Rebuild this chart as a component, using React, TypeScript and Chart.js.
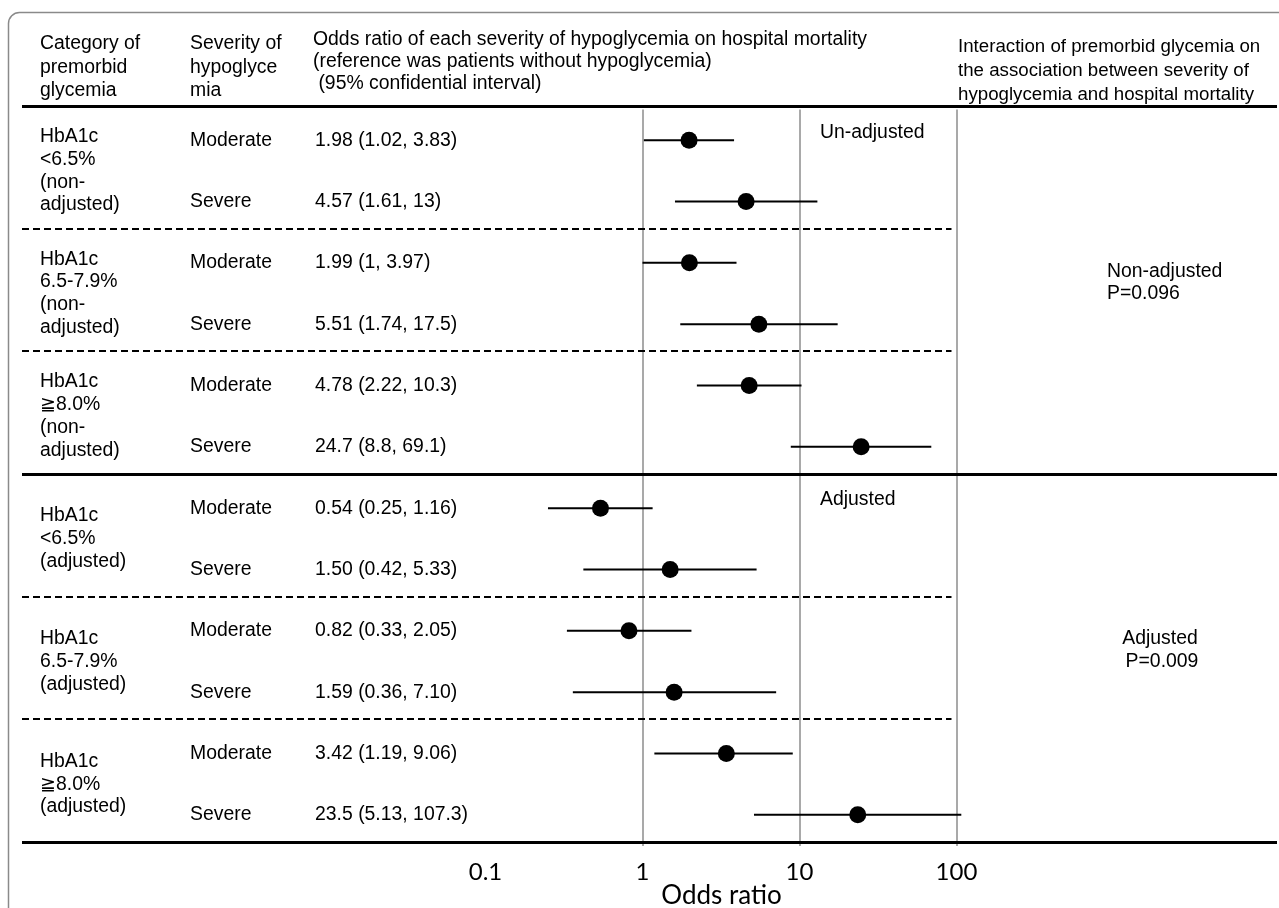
import { useEffect, useRef } from "react";
import { Chart, registerables } from "chart.js";

Chart.register(...registerables);

// ---------- data ----------
const groupLabels: string[][] = [
  ["HbA1c", "<6.5%", "(non-", "adjusted)"],
  ["HbA1c", "6.5-7.9%", "(non-", "adjusted)"],
  ["HbA1c", "≧8.0%", "(non-", "adjusted)"],
  ["HbA1c", "<6.5%", "(adjusted)"],
  ["HbA1c", "6.5-7.9%", "(adjusted)"],
  ["HbA1c", "≧8.0%", "(adjusted)"],
];
const severities = [
  "Moderate", "Severe", "Moderate", "Severe", "Moderate", "Severe",
  "Moderate", "Severe", "Moderate", "Severe", "Moderate", "Severe",
];
const oddsRatios = [1.98, 4.57, 1.99, 5.51, 4.78, 24.7, 0.54, 1.5, 0.82, 1.59, 3.42, 23.5];
const ciLower = [1.02, 1.61, 1, 1.74, 2.22, 8.8, 0.25, 0.42, 0.33, 0.36, 1.19, 5.13];
const ciUpper = [3.83, 13, 3.97, 17.5, 10.3, 69.1, 1.16, 5.33, 2.05, 7.1, 9.06, 107.3];
const ciLabels = [
  "1.98 (1.02, 3.83)", "4.57 (1.61, 13)", "1.99 (1, 3.97)", "5.51 (1.74, 17.5)",
  "4.78 (2.22, 10.3)", "24.7 (8.8, 69.1)", "0.54 (0.25, 1.16)", "1.50 (0.42, 5.33)",
  "0.82 (0.33, 2.05)", "1.59 (0.36, 7.10)", "3.42 (1.19, 9.06)", "23.5 (5.13, 107.3)",
];
const xTicks = [0.1, 1, 10, 100];
const headerCategory = ["Category of", "premorbid", "glycemia"];
const headerSeverity = ["Severity of", "hypoglyce", "mia"];
const headerOdds = [
  "Odds ratio of each severity of hypoglycemia on hospital mortality",
  "(reference was patients without hypoglycemia)",
  " (95% confidential interval)",
];
const headerInteraction = [
  "Interaction of premorbid glycemia on",
  "the association between severity of",
  "hypoglycemia and hospital mortality",
];
const panelLabels = ["Un-adjusted", "Adjusted"];
const interactionLabels = [
  ["Non-adjusted", "P=0.096"],
  ["Adjusted", "P=0.009"],
];
const axisTitle = "Odds ratio";

// ---------- layout ----------
const W = 1279;
const H = 908;
const PAD_LEFT = 22;
const PAD_RIGHT = 2;
const PAD_TOP = 109.5;
const AXIS_H = 62.5;
const SEP_SHIFT = -2.5; // separators sit slightly above the row band edges
const PX_PER_DECADE = 157;
const X_ONE_PX = 642.5;
const TEXT_FONT = "19.4px 'Liberation Sans', Arial, sans-serif";
const HEAD4_FONT = "18.7px 'Liberation Sans', Arial, sans-serif";
const AXIS_FONT = "Lato, 'Open Sans', sans-serif";
const LINE_H = 22.7;

const forestPlugin = {
  id: "forestDecor",
  afterLayout(chart: any) {
    // align the log scale so that OR = 1 sits at the reference column
    const x = chart.scales.x;
    const area = chart.chartArea;
    x.min = Math.pow(10, -(X_ONE_PX - area.left) / PX_PER_DECADE);
    x.max = Math.pow(10, (area.right - X_ONE_PX) / PX_PER_DECADE);
    x.configure();
  },
  beforeDatasetsDraw(chart: any) {
    const { ctx, chartArea } = chart;
    const y = chart.scales.y;
    const x = chart.scales.x;
    ctx.save();
    // outer frame (rounded corner top-left)
    ctx.strokeStyle = "#8a8a8a";
    ctx.lineWidth = 1.5;
    ctx.beginPath();
    ctx.moveTo(8.5, H);
    ctx.lineTo(8.5, 24);
    ctx.arcTo(8.5, 12.5, 20, 12.5, 11);
    ctx.lineTo(W, 12.5);
    ctx.stroke();

    // dashed separators between groups
    ctx.strokeStyle = "#000";
    ctx.lineWidth = 2;
    ctx.setLineDash([7, 4]);
    const dashEnd = x.getPixelForValue(100) - 5;
    [2, 4, 8, 10].forEach((b) => {
      const py = Math.round(y.getPixelForValue(b) + SEP_SHIFT) - 1;
      ctx.beginPath();
      ctx.moveTo(chartArea.left, py);
      ctx.lineTo(dashEnd, py);
      ctx.stroke();
    });
    ctx.setLineDash([]);

    // thick separators
    ctx.lineWidth = 3;
    [0, 6, 12].forEach((b) => {
      const py = Math.round(y.getPixelForValue(b) + SEP_SHIFT) - 0.5;
      ctx.beginPath();
      ctx.moveTo(chartArea.left, py);
      ctx.lineTo(W - PAD_RIGHT, py);
      ctx.stroke();
    });
    ctx.restore();
  },
  afterDraw(chart: any) {
    const { ctx } = chart;
    const y = chart.scales.y;
    const x = chart.scales.x;
    ctx.save();
    ctx.fillStyle = "#000";
    ctx.font = TEXT_FONT;
    ctx.textBaseline = "middle";
    ctx.textAlign = "left";

    const drawLines = (lines: string[], px: number, py0: number, lh: number) => {
      lines.forEach((t, i) => ctx.fillText(t, px, py0 + i * lh));
    };
    // headers
    drawLines(headerCategory, 40, 44, 23.5);
    drawLines(headerSeverity, 190, 44, 23.5);
    drawLines(headerOdds, 313, 40, 22);
    ctx.font = HEAD4_FONT;
    drawLines(headerInteraction, 958, 47, 24);
    ctx.font = TEXT_FONT;

    // group labels
    groupLabels.forEach((lines, g) => {
      const cy = y.getPixelForValue(g * 2 + 1);
      const start = cy - ((lines.length - 1) * LINE_H) / 2;
      drawLines(lines, 40, start, LINE_H);
    });
    // rows
    severities.forEach((s, i) => {
      const py = y.getPixelForValue(i + 0.5);
      ctx.fillText(s, 190, py);
      ctx.fillText(ciLabels[i], 315, py);
    });
    // panel labels
    ctx.fillText(panelLabels[0], 820, y.getPixelForValue(0.5) - 8);
    ctx.fillText(panelLabels[1], 820, y.getPixelForValue(6.5) - 9);
    // interaction labels
    const c1 = y.getPixelForValue(3) - 10.5;
    ctx.fillText(interactionLabels[0][0], 1107, c1 - 11);
    ctx.fillText(interactionLabels[0][1], 1107, c1 + 11);
    const c2 = y.getPixelForValue(9) - 11.5;
    ctx.textAlign = "center";
    ctx.fillText(interactionLabels[1][0], 1160, c2 - 11);
    ctx.fillText(interactionLabels[1][1], 1162, c2 + 12);

    // axis title
    ctx.font = `26px ${AXIS_FONT}`;
    ctx.textAlign = "center";
    ctx.fillText(axisTitle, x.getPixelForValue(1) + 79, 896);
    ctx.restore();
  },
};

export default function App() {
  const canvasRef = useRef<HTMLCanvasElement | null>(null);

  useEffect(() => {
    if (!canvasRef.current) return;
    const pointData = oddsRatios.map((v, i) => ({ x: v, y: i + 0.5 }));
    const barSets = oddsRatios.map((_, i) => ({
      type: "line" as const,
      data: [
        { x: ciLower[i], y: i + 0.5 },
        { x: ciUpper[i], y: i + 0.5 },
      ],
      borderColor: "#000",
      borderWidth: 2,
      pointRadius: 0,
      showLine: true,
      fill: false,
    }));
    const chart = new Chart(canvasRef.current, {
      type: "scatter",
      data: {
        datasets: [
          {
            data: pointData,
            pointRadius: 8.5,
            pointHoverRadius: 8.5,
            backgroundColor: "#000",
            borderColor: "#000",
            borderWidth: 0,
          } as any,
          ...barSets,
        ],
      },
      options: {
        animation: false,
        responsive: true,
        maintainAspectRatio: false,
        layout: { padding: { left: PAD_LEFT, right: PAD_RIGHT, top: PAD_TOP, bottom: 0 } },
        plugins: { legend: { display: false }, tooltip: { enabled: false } },
        scales: {
          x: {
            type: "logarithmic",
            position: "bottom",
            min: 0.0001,
            max: 10000,
            afterBuildTicks: (s: any) => {
              s.ticks = xTicks.map((v) => ({ value: v }));
            },
            afterFit: (s: any) => {
              s.height = AXIS_H;
              s.paddingLeft = 0;
              s.paddingRight = 0;
            },
            grid: {
              color: (c: any) =>
                c.tick && c.tick.value === 0.1 ? "rgba(0,0,0,0)" : "#a9a9a9",
              lineWidth: 2,
              drawTicks: false,
            },
            border: { display: false },
            ticks: {
              autoSkip: false,
              maxRotation: 0,
              padding: 12.5,
              color: "#000",
              font: { family: AXIS_FONT, size: 24 },
              callback: (v: any) => String(v),
            },
            title: { display: false },
          },
          y: {
            type: "linear",
            min: 0,
            max: 12,
            reverse: true,
            display: false,
          },
        },
      } as any,
      plugins: [forestPlugin],
    });
    return () => chart.destroy();
  }, []);

  return (
    <div style={{ position: "fixed", left: 0, top: 0, width: W, height: H, background: "#fff" }}>
      <canvas ref={canvasRef} />
    </div>
  );
}
